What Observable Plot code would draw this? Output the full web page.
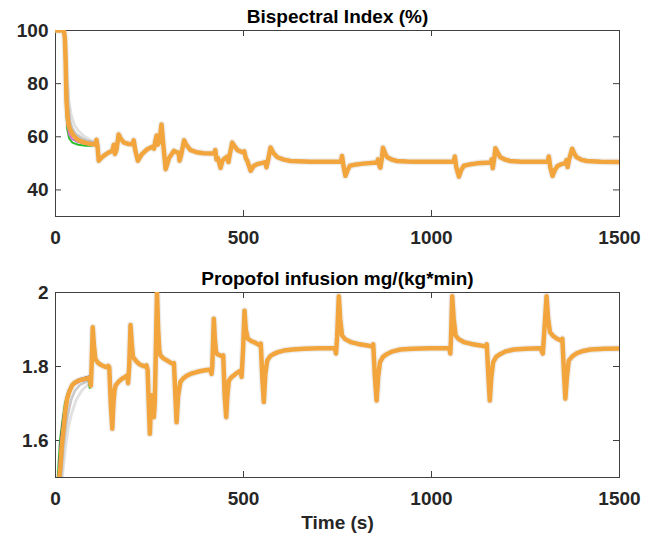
<!DOCTYPE html>
<html>
<head>
<meta charset="utf-8">
<script src="https://cdn.jsdelivr.net/npm/d3@7"></script>
<script src="https://cdn.jsdelivr.net/npm/@observablehq/plot@0.6"></script>
<style>
  html, body { margin: 0; padding: 0; background: #fff; }
  #chart { width: 667px; height: 533px; overflow: hidden; }
  #chart svg { display: block; }
</style>
</head>
<body>
<div id="chart"></div>
<script>
// ---------- tick labels ----------
const xTicks = [0, 500, 1000, 1500];
const bisTicks = [40, 60, 80, 100];
const propTicks = [1.6, 1.8, 2];

const bisTitle = "Bispectral Index (%)";
const propTitle = "Propofol infusion mg/(kg*min)";
const xLabel = "Time (s)";

// ---------- Bispectral index, main (orange) trace ----------
const bisTime = [0,22,25,27,29,32,35.5,42,49,58,66.5,80,93,102,106,109,112,115,120,128,140,151,155,158,162,168,174,182,195,204,208,212,219,230,244,257,262,265,269,272,276,282,286,293,302,315,322,327,330,334,342,348,359,375,394,421,425,428,432,439,444,448,456,460,463,470,476,484,497,502,506,510,519,527,536,548,558,561,565,572,580,590,607,625,680,759,762,766,771,777,783,800,818,855,858,862,864,868,871,876,882,895,908,935,961,1059,1062,1066,1073,1079,1086,1105,1121,1157,1160,1163,1167,1170,1176,1183,1196,1209,1240,1309,1312,1316,1322,1328,1335,1345,1355,1359,1362,1366,1374,1380,1386,1400,1413,1450,1500];
const bisOrange = [100,100,97,88,74,67.5,64,61.8,60.3,59,58.4,57.7,57.3,57.2,57.0,58.9,56,51,51.8,52.8,54.0,54.7,57.0,53.5,55,60.9,59.2,57.8,57.3,57.2,58.7,55,51.0,53.5,55.3,56.2,55.5,58,60.5,57,58,64.6,58,47.8,52,54.7,54.2,54.0,51.0,53,58.7,57,55.0,54.2,53.8,53.7,55,51.5,52,48.3,51,51.6,52.5,50.5,53,57.8,56.5,55.0,54.2,54.5,52,51,47.2,49,49.7,50.1,50.4,48.5,51,56.0,53.8,52.3,51.4,50.9,50.6,50.6,52.8,49,45.3,47.5,49.1,49.6,49.9,50.3,51.5,48.8,48.4,52,55.9,54,52.3,51.4,50.9,50.7,50.6,50.6,52.6,48.5,45.0,47.5,49.1,49.7,50.0,50.3,51.5,48.2,52,55.7,54,52.3,51.4,50.9,50.6,50.6,52.6,48.5,45.3,47.5,49.0,49.7,50,51.2,48.6,51.5,55.5,53.6,52.3,51.3,50.9,50.6,50.5];

// ---------- Bispectral index, other traces (visible only in the induction phase) ----------
const bisGreenTime = [0,22,25,28,31,36,45,60,80,95,102];
const bisGreen = [100,100,95,75,63,59.5,57.8,57,56.6,56.6,57];
const bisMagentaTime = [0,22,25,28,31,36,45,60,80,100];
const bisMagenta = [100,100,96,78,65,61,59,58,57.3,57];
const bisGrayTime = [0,23,26,29,33,38,45,55,70,85,100];
const bisGray = [100,100,95,82,72,66,63,61,59.5,58.5,57.8];
const bisGray2Time = [0,24,27,31,36,42,50,62,78,95,105];
const bisGray2 = [100,100,95,82,73,68,64.5,62,60,58.6,58];

// ---------- Propofol infusion, main (orange) trace ----------
const propTime = [0,5,10,13,17,22,26,31,37,44,52,62,75,89,92,94,96,99,102,106,113,120,130,137,140,143,147,151,154,157,160,168,177,185,191,193,196,199.5,203,206,214,222,232,239,242,245,248,251,254,256,259,261.5,264,267,270,273,276,279,287,297,305,313,315,318,322,326,332,340,349,359,375,394,412,415,417,421,424,427,430,437,443,446,450,454,457,461,468,479,492,495,499,502.7,506,511.5,520,532,543,546,550,554,558,563,571,580.6,592,607,630,660,700,743,746,749,753.5,757,762,770,785,805,829,842,845,849,854,858,863,871,882,897,917.6,950,997,1047,1050,1052,1055,1059,1064,1072,1086,1106,1130,1144,1147,1151,1155,1159,1164,1172,1183.5,1198,1219,1250,1290,1296,1299,1306,1310,1315,1324,1334,1345,1348,1352,1356,1360,1365,1375,1387,1403,1423,1460,1500];
const propOrange = [1.2,1.35,1.5,1.53,1.59,1.64,1.68,1.713,1.733,1.749,1.757,1.762,1.766,1.769,1.762,1.748,1.80,1.906,1.86,1.82,1.810,1.805,1.800,1.798,1.802,1.798,1.70,1.632,1.70,1.735,1.749,1.759,1.767,1.772,1.776,1.755,1.80,1.912,1.86,1.826,1.815,1.807,1.802,1.800,1.803,1.79,1.70,1.618,1.70,1.722,1.70,1.663,1.70,1.85,2.0,1.9,1.845,1.830,1.822,1.816,1.811,1.807,1.809,1.74,1.649,1.72,1.758,1.768,1.775,1.780,1.785,1.789,1.792,1.780,1.80,1.929,1.87,1.84,1.834,1.830,1.828,1.830,1.72,1.663,1.72,1.762,1.771,1.780,1.789,1.772,1.85,1.951,1.90,1.875,1.869,1.864,1.857,1.862,1.77,1.704,1.78,1.816,1.828,1.834,1.839,1.843,1.846,1.848,1.849,1.849,1.835,1.88,1.99,1.93,1.884,1.874,1.866,1.861,1.857,1.854,1.860,1.78,1.708,1.77,1.812,1.826,1.834,1.841,1.846,1.848,1.849,1.849,1.835,1.88,1.99,1.93,1.884,1.874,1.866,1.861,1.857,1.854,1.860,1.78,1.708,1.77,1.812,1.826,1.834,1.841,1.846,1.848,1.849,1.835,1.88,1.99,1.93,1.893,1.882,1.875,1.870,1.875,1.79,1.713,1.77,1.816,1.828,1.836,1.842,1.846,1.848,1.849];

// ---------- Propofol infusion, other traces (induction phase) ----------
const propGreenTime = [0,6,12,18,25,33,45,60,75,88,91,95];
const propGreen = [1.25,1.5,1.6,1.648,1.70,1.73,1.75,1.76,1.764,1.766,1.742,1.76];
const propBlueTime = [0,8,14,20,27,35,47,62,78,89,93];
const propBlue = [1.2,1.5,1.6,1.655,1.70,1.735,1.755,1.765,1.770,1.773,1.765];
const propMagentaTime = [0,9,15,21,28,36,48,65,89,93];
const propMagenta = [1.2,1.5,1.6,1.65,1.70,1.73,1.75,1.76,1.766,1.752];
const propGrayTime = [0,14,20,26,33,42,52,65,80,92];
const propGray = [1.1,1.5,1.58,1.63,1.67,1.71,1.735,1.75,1.758,1.762];
const propGray2Time = [0,18,25,33,42,55,70,85,92];
const propGray2 = [1.0,1.5,1.57,1.63,1.67,1.71,1.735,1.75,1.755];

// ---------- helpers ----------
const pts = (T, V) => T.map((t, i) => ({t, v: V[i]}));
const ORANGE = "#F2A53C";
const AXIS = "#404040";
const TEXT = "#262626";
const FONT = "'Liberation Sans', Arial, Helvetica, sans-serif";
const FS = 19;
const W = 667, ML = 55, MR = 48, TICK = 6;

function panel({height, marginTop, marginBottom, yDomain, yTicks, title, xlab, main, others}) {
  const pw = W - ML - MR;
  const ph = height - marginTop - marginBottom;
  const marks = [
    Plot.frame({stroke: AXIS, strokeWidth: 1}),
    Plot.tickX(xTicks, {x: d => d, insetTop: ph - TICK, stroke: AXIS}),
    Plot.tickX(xTicks, {x: d => d, insetBottom: ph - TICK, stroke: AXIS}),
    Plot.tickY(yTicks, {y: d => d, insetRight: pw - TICK, stroke: AXIS}),
    Plot.tickY(yTicks, {y: d => d, insetLeft: pw - TICK, stroke: AXIS}),
    Plot.axisX(xTicks, {tickSize: 0, tickPadding: 14, tickFormat: d => String(d), fontSize: FS, fontWeight: "bold", fill: TEXT, label: null}),
    Plot.axisY(yTicks, {tickSize: 0, tickPadding: 7, tickFormat: d => String(d), fontSize: FS, fontWeight: "bold", fill: TEXT, label: null}),
    // faint halo of the overlapping simulation runs
    Plot.line(main, {x: "t", y: "v", stroke: "#9a9a9a", strokeOpacity: 0.18, strokeWidth: 7, clip: true}),
    ...others.map(o => Plot.line(o.data, {x: "t", y: "v", stroke: o.color, strokeOpacity: o.opacity ?? 1, strokeWidth: o.width ?? 2.5, clip: true})),
    Plot.line(main, {x: "t", y: "v", stroke: ORANGE, strokeWidth: 4.5, clip: true}),
    Plot.text([title], {frameAnchor: "top", lineAnchor: "middle", dy: -14, fontSize: FS, fontWeight: "bold", fill: "#000"})
  ];
  if (xlab) marks.push(Plot.text([xlab], {frameAnchor: "bottom", lineAnchor: "middle", dy: 45, fontSize: FS, fontWeight: "bold", fill: TEXT}));
  return Plot.plot({
    width: W, height, marginLeft: ML, marginRight: MR, marginTop, marginBottom,
    x: {domain: [0, 1500], label: null},
    y: {domain: yDomain, label: null},
    style: {fontFamily: FONT, background: "white", overflow: "visible"},
    marks
  });
}

const bisChart = panel({
  height: 260, marginTop: 30, marginBottom: 44,
  yDomain: [30, 100], yTicks: bisTicks, title: bisTitle,
  main: pts(bisTime, bisOrange),
  others: [
    {data: pts(bisGray2Time, bisGray2), color: "#a8a8a8", opacity: 0.35, width: 3},
    {data: pts(bisGrayTime, bisGray), color: "#8a8a8a", opacity: 0.45, width: 2.5},
    {data: pts(bisGreenTime, bisGreen), color: "#2bbf2b", width: 2},
    {data: pts(bisMagentaTime, bisMagenta), color: "#d070d0", width: 2}
  ]
});
const propChart = panel({
  height: 273, marginTop: 32, marginBottom: 56,
  yDomain: [1.5, 2], yTicks: propTicks, title: propTitle, xlab: xLabel,
  main: pts(propTime, propOrange),
  others: [
    {data: pts(propGray2Time, propGray2), color: "#a8a8a8", opacity: 0.35, width: 3},
    {data: pts(propGrayTime, propGray), color: "#8a8a8a", opacity: 0.45, width: 2.5},
    {data: pts(propGreenTime, propGreen), color: "#2bbf2b", width: 2},
    {data: pts(propBlueTime, propBlue), color: "#2a2ab0", width: 2},
    {data: pts(propMagentaTime, propMagenta), color: "#d070d0", width: 2}
  ]
});
document.getElementById("chart").append(bisChart, propChart);
</script>
</body>
</html>
